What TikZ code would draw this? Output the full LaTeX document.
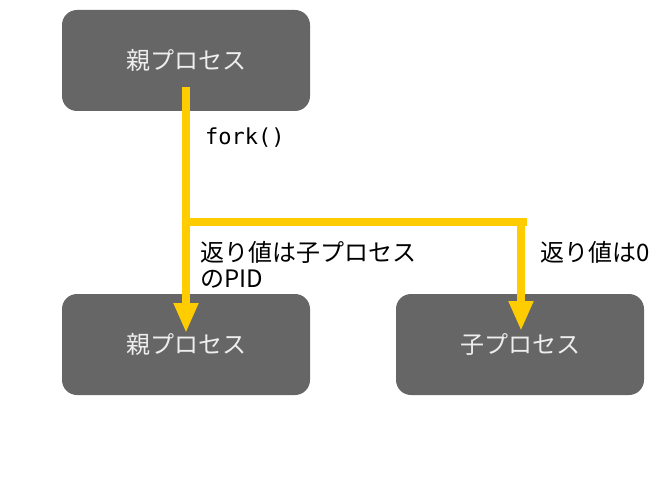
\documentclass[tikz,border=0pt]{standalone}
\usepackage{fontspec}
\setmainfont{Noto Sans CJK JP}
\newfontfamily\monofnt{DejaVu Sans Mono}
\usetikzlibrary{arrows.meta}
\definecolor{boxgray}{HTML}{666666}
\definecolor{boxtext}{HTML}{EEEEEE}
\definecolor{flowyellow}{HTML}{FFCC00}
\tikzset{
  procbox/.style={draw=none, fill=boxgray, rounded corners=15pt, minimum width=248pt, minimum height=101pt, text=boxtext, font=\fontsize{24}{26}\selectfont, inner sep=0pt},
  flow/.style={draw=flowyellow, line width=8pt},
  flowarrow/.style={flow, -{Triangle[width=23pt,length=30pt]}},
  lbl/.style={anchor=west, align=left, inner sep=0pt, font=\fontsize{24}{26}\selectfont}
}
\begin{document}
\begin{tikzpicture}[x=1pt,y=-1pt]
\useasboundingbox (0,0) rectangle (660,494);
\node[procbox] (parent) at (186,60.5) {親プロセス};
\node[procbox] (parent2) at (186,344.5) {親プロセス};
\node[procbox] (child) at (520,344.5) {子プロセス};
\coordinate (start) at (186,87);
\coordinate (junc) at (186,222);
\coordinate (juncr) at (521,222);
\coordinate (tipl) at (186,333);
\coordinate (tipr) at (521,331);
\draw[flow] (start) -- (junc);
\draw[flowarrow] (junc) -- (tipl);
\draw[flow] (junc) -- ([xshift=6pt]juncr);
\draw[flowarrow] (juncr) -- (tipr);
\node[lbl, font=\monofnt\fontsize{22}{24}\selectfont] (forklbl) at (205,138) {fork()};
\node[lbl] (retparent) at (200,265) {返り値は子プロセス\\のPID};
\node[lbl] (retchild) at (540,252) {返り値は0};
\end{tikzpicture}
\end{document}
